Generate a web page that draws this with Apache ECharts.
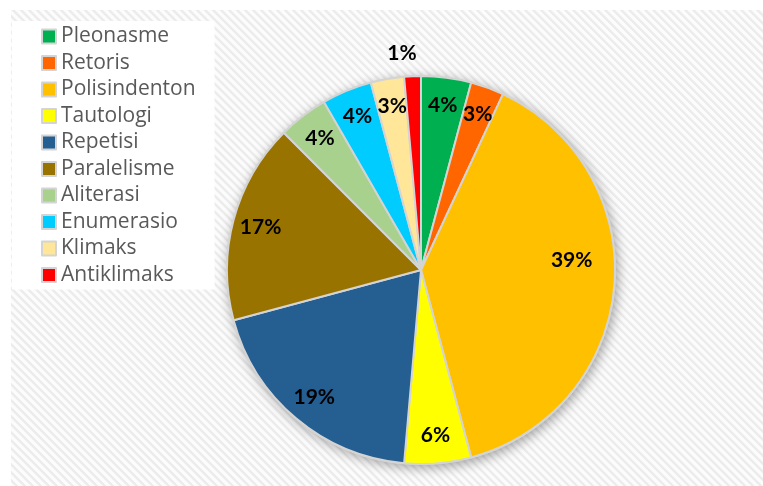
<!DOCTYPE html>
<html>
<head>
<meta charset="utf-8">
<script src="https://cdn.jsdelivr.net/npm/echarts@6/dist/echarts.min.js"></script>
<style>
  html, body { margin: 0; padding: 0; background: #ffffff; }
  #bg {
    position: absolute; left: 11px; top: 10px; right: 0; bottom: 0;
    background: repeating-linear-gradient(45deg,
      #fcfcfc 0px, #fcfcfc 2.4px, #ececec 3.2px, #ececec 4.9px, #fcfcfc 5.66px);
  }
  #chart { position: absolute; left: 0; top: 0; width: 763px; height: 486px; }
</style>
</head>
<body>
<div id="bg"></div>
<div id="chart"></div>
<script>
// ---- data (counts; labels show rounded percentages) ----
const categories = ['Pleonasme', 'Retoris', 'Polisindenton', 'Tautologi', 'Repetisi',
                    'Paralelisme', 'Aliterasi', 'Enumerasio', 'Klimaks', 'Antiklimaks'];
const counts = [3, 2, 28, 4, 14, 12, 3, 3, 2, 1];
const colors = ['#00b050', '#ff6600', '#ffc000', '#ffff00', '#255e91',
                '#997300', '#a9d18e', '#00ccff', '#ffe699', '#ff0000'];

const total = counts.reduce((a, b) => a + b, 0);
const pctLabel = p => Math.round(p.value / total * 100) + '%';

const CENTER = [421, 270];
const R = 194;

// which label goes in which label ring
const ringMid = ['Polisindenton'];
const ringOut = ['Antiklimaks'];

function labelSeries(radius, startAngle, showSet, excludeSet) {
  return {
    type: 'pie',
    center: CENTER,
    radius: radius,
    startAngle: startAngle,
    clockwise: true,
    silent: true,
    avoidLabelOverlap: false,
    emphasis: { disabled: true },
    itemStyle: { color: 'rgba(0,0,0,0)', borderWidth: 0 },
    labelLine: { show: false },
    z: 5,
    data: categories.map((n, i) => {
      const show = showSet ? showSet.includes(n) : !excludeSet.includes(n);
      return { name: n, value: counts[i], label: { show: show } };
    }),
    label: {
      show: true,
      position: 'inside',
      formatter: pctLabel,
      color: '#000000',
      fontFamily: 'Lato',
      fontWeight: 'bold',
      fontSize: 21
    }
  };
}

const chart = echarts.init(document.getElementById('chart'), null, { renderer: 'canvas' });
chart.setOption({
  backgroundColor: 'transparent',
  animation: false,
  color: colors,
  legend: {
    data: categories,
    orient: 'vertical',
    left: 12,
    top: 21,
    backgroundColor: '#ffffff',
    padding: [5, 19, 4, 29],
    itemWidth: 14,
    itemHeight: 14,
    itemGap: 5.5,
    icon: 'rect',
    selectedMode: false,
    textStyle: { fontFamily: 'Open Sans', fontSize: 21, color: '#595959', lineHeight: 20 }
  },
  series: [
    {
      // backing disc carrying the soft shadow
      type: 'pie',
      center: CENTER,
      radius: R + 1,
      silent: true,
      z: 1,
      label: { show: false },
      labelLine: { show: false },
      itemStyle: {
        color: '#d4d4d4',
        shadowBlur: 12,
        shadowColor: 'rgba(0,0,0,0.35)',
        shadowOffsetX: 2,
        shadowOffsetY: 3
      },
      data: [{ name: '', value: 1 }]
    },
    {
      type: 'pie',
      center: CENTER,
      radius: R,
      startAngle: 90,
      clockwise: true,
      z: 3,
      label: { show: false },
      labelLine: { show: false },
      itemStyle: { borderColor: '#d4d4d4', borderWidth: 2 },
      data: categories.map((n, i) => ({ name: n, value: counts[i], itemStyle: { color: colors[i] } }))
    },
    labelSeries([132, R], 90, null, ringMid.concat(ringOut)),
    labelSeries([102, R], 98.7, ringMid, null),
    labelSeries([R, 236], 92.5, ringOut, null)
  ]
});
</script>
</body>
</html>
